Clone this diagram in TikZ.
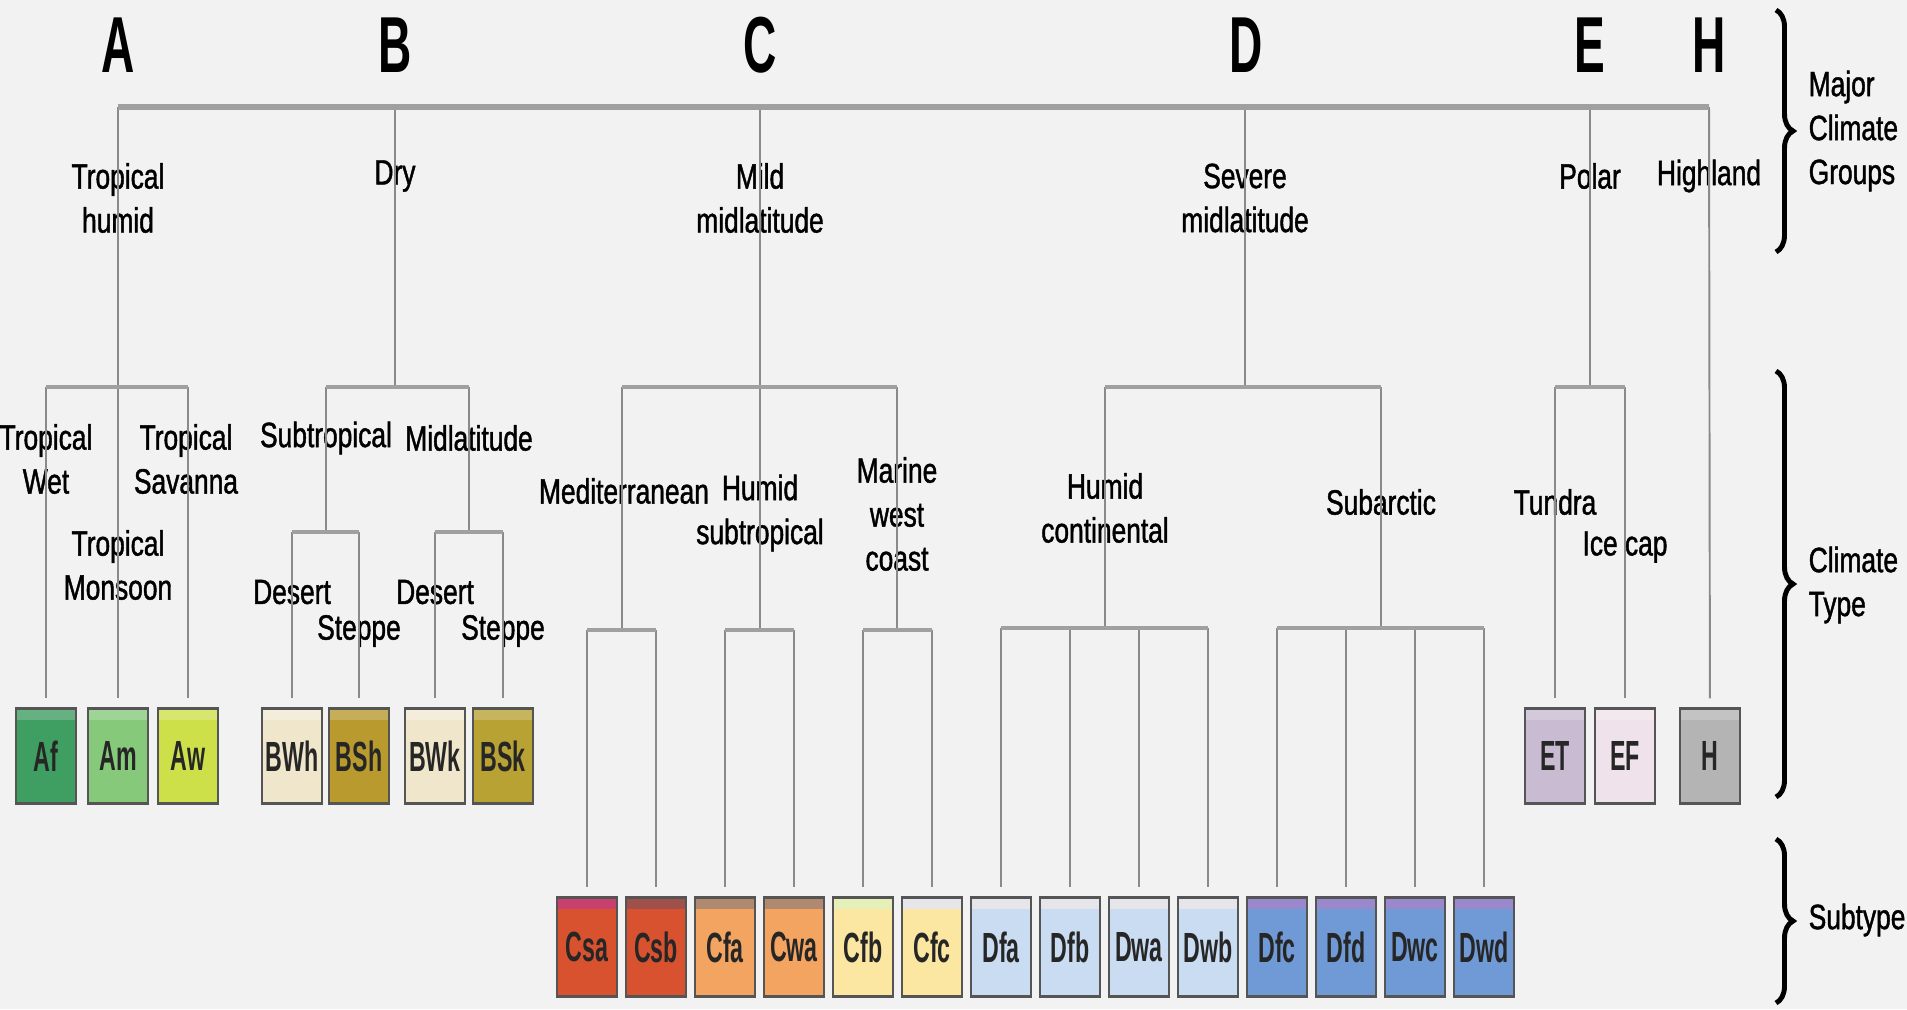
\documentclass[tikz,border=0pt]{standalone}
\usepackage{fontspec}
\setmainfont{Liberation Sans}[FakeStretch=0.75, FakeBold=1.2]
\newfontfamily\narrowfont{Liberation Sans}[FakeStretch=0.58]
\newfontfamily\boxfont{Liberation Sans Bold}[FakeStretch=0.55]
\usepackage{xcolor}
\usetikzlibrary{decorations.pathreplacing}

\definecolor{bgcol}{HTML}{F2F2F2}
\definecolor{linecol}{HTML}{8A8A8A}
\definecolor{barcol}{HTML}{A0A0A0}
\definecolor{boxline}{HTML}{555555}
% climate type colours
\definecolor{cAf}{HTML}{3F9E62}
\definecolor{cAm}{HTML}{86C97A}
\definecolor{cAw}{HTML}{CDE04A}
\definecolor{cBW}{HTML}{EFE6CC}
\definecolor{cBSh}{HTML}{B89A2E}
\definecolor{cBSk}{HTML}{B8A234}
\definecolor{cET}{HTML}{C9BCD2}
\definecolor{cEF}{HTML}{F0E2EA}
\definecolor{cH}{HTML}{B4B4B4}
% subtype colours
\definecolor{cCs}{HTML}{D9522F}
\definecolor{cCf}{HTML}{F4A461}
\definecolor{cCb}{HTML}{FBE6A2}
\definecolor{cDl}{HTML}{CADCF2}
\definecolor{cDd}{HTML}{6F9AD6}
\definecolor{sCsa}{HTML}{C8406E}
\definecolor{sCsb}{HTML}{A0504A}
\definecolor{sCf}{HTML}{B08A70}
\definecolor{sCb}{HTML}{E4F0B8}
\definecolor{sDl}{HTML}{E6E6EA}
\definecolor{sDd}{HTML}{9A88CC}

\begin{document}
\begin{tikzpicture}[x=0.1mm, y=-0.1mm,
    conn/.style={draw=linecol, line width=0.55pt},
    tobox/.style={conn, shorten >=0.9mm},
    topbar/.style={draw=barcol, line width=1.7pt},
    midbar/.style={draw=barcol, line width=1.4pt},
    lowbar/.style={draw=barcol, line width=1.1pt},
    letter/.style={font=\narrowfont\bfseries\fontsize{22.6}{26}\selectfont, inner sep=0pt},
    grp/.style={font=\fontsize{10}{12.5}\selectfont, align=center, inner sep=0pt},
    side/.style={grp, align=left, anchor=west},
    strip/.style={path picture={\fill[#1] (path picture bounding box.north west)
        rectangle ([yshift=-1.1mm]path picture bounding box.north east);}},
    climbox/.style={draw=boxline, line width=0.6pt, minimum width=6mm, minimum height=9.5mm,
        inner sep=0pt, text=black!85, font=\boxfont\fontsize{12}{14}\selectfont},
    subbox/.style={climbox, minimum height=9.9mm},
    grpbrace/.style={decorate, decoration={brace, amplitude=1.7mm}, line width=1.4pt},
]
    % Background
    \fill[bgcol] (0,0) rectangle (1907,1009);
    \useasboundingbox (0,0) rectangle (1907,1009);

    % Major climate groups
    \node[letter] (A) at (118,45) {A};
    \node[letter] (B) at (395,45) {B};
    \node[letter] (C) at (760,45) {C};
    \node[letter] (D) at (1246,45) {D};
    \node[letter] (E) at (1590,45) {E};
    \node[letter] (H) at (1709,45) {H};

    \node[grp] (trop) at (118,198) {Tropical\\humid};
    \node[grp] (dry)  at (395,176) {Dry};
    \node[grp] (mild) at (760,198) {Mild\\midlatitude};
    \node[grp] (sev)  at (1245,198) {Severe\\midlatitude};
    \node[grp] (pol)  at (1590,176) {Polar};
    \node[grp] (high) at (1709,176) {Highland};

    % Climate types
    \node[grp] (twet) at (46,459) {Tropical\\Wet};
    \node[grp] (tsav) at (186,459) {Tropical\\Savanna};
    \node[grp] (tmon) at (118,565) {Tropical\\Monsoon};
    \node[grp] (subt) at (326,438) {Subtropical};
    \node[grp] (midl) at (469,438) {Midlatitude};
    \node[grp] (des1) at (292,592) {Desert};
    \node[grp] (ste1) at (359,631) {Steppe};
    \node[grp] (des2) at (435,592) {Desert};
    \node[grp] (ste2) at (503,631) {Steppe};
    \node[grp] (medi) at (624,491) {Mediterranean};
    \node[grp] (hsub) at (760,513) {Humid\\subtropical};
    \node[grp] (mwc)  at (897,514) {Marine\\west\\coast};
    \node[grp] (hcon) at (1105,508) {Humid\\continental};
    \node[grp] (suba) at (1381,502) {Subarctic};
    \node[grp] (tund) at (1555,502) {Tundra};
    \node[grp] (icec) at (1625,547) {Ice cap};

    % Climate type boxes
    \node[climbox, fill=cAf, strip=cAf!80!white] (Af)  at (46,756)  {Af};
    \node[climbox, fill=cAm, strip=cAm!80!white] (Am)  at (118,756) {Am};
    \node[climbox, fill=cAw, strip=cAw!80!white] (Aw)  at (188,756) {Aw};
    \node[climbox, fill=cBW, strip=cBW!70!white] (BWh) at (292,756) {BWh};
    \node[climbox, fill=cBSh, strip=cBSh!80!white] (BSh) at (359,756) {BSh};
    \node[climbox, fill=cBW, strip=cBW!70!white] (BWk) at (435,756) {BWk};
    \node[climbox, fill=cBSk, strip=cBSk!80!white] (BSk) at (503,756) {BSk};
    \node[climbox, fill=cET, strip=cET!80!white] (ET)  at (1555,756) {ET};
    \node[climbox, fill=cEF, strip=cEF!80!white] (EF)  at (1625,756) {EF};
    \node[climbox, fill=cH, strip=cH!80!white]  (Hb)  at (1710,756) {H};

    % Subtype boxes
    \foreach \n/\c/\s [count=\i from 0] in {Csa/cCs/sCsa, Csb/cCs/sCsb, Cfa/cCf/sCf, Cwa/cCf/sCf,
        Cfb/cCb/sCb, Cfc/cCb/sDl, Dfa/cDl/sDl, Dfb/cDl/sDl, Dwa/cDl/sDl, Dwb/cDl/sDl,
        Dfc/cDd/sDd, Dfd/cDd/sDd, Dwc/cDd/sDd, Dwd/cDd/sDd}
        \node[subbox, fill=\c, strip=\s] (\n) at (587+69*\i,947) {\n};

    % Junction points
    \coordinate (tA) at (118,107);
    \coordinate (tB) at (395,107);
    \coordinate (tC) at (760,107);
    \coordinate (tD) at (1245,107);
    \coordinate (tE) at (1590,107);
    \coordinate (tH) at (1709,107);
    \coordinate (mA) at (118,387);
    \coordinate (mB) at (395,387);
    \coordinate (mD) at (1245,387);
    \coordinate (mE) at (1590,387);
    \coordinate (b1) at (326,387);
    \coordinate (b2) at (469,387);
    \coordinate (c1) at (622,387);
    \coordinate (c3) at (897,387);
    \coordinate (d1) at (1105,387);
    \coordinate (d2) at (1381,387);
    \coordinate (b1l) at (326,532);
    \coordinate (b2l) at (469,532);
    \coordinate (c1l) at (622,630);
    \coordinate (c2l) at (760,630);
    \coordinate (c3l) at (897,630);
    \coordinate (d1l) at (1105,628);
    \coordinate (d2l) at (1381,628);

    % Vertical lines from the groups
    \draw[tobox] (tA) -- (Am);
    \draw[conn] (tB) -- (mB);
    \draw[conn] (tC) -- (c2l);
    \draw[conn] (tD) -- (mD);
    \draw[conn] (tE) -- (mE);
    \draw[tobox] (tH) -- (Hb);

    % Lines down to the climate types
    \draw[tobox] (Af |- mA) -- (Af);
    \draw[tobox] (Aw |- mA) -- (Aw);
    \draw[conn] (b1) -- (b1l);
    \draw[conn] (b2) -- (b2l);
    \draw[conn] (c1) -- (c1l);
    \draw[conn] (c3) -- (c3l);
    \draw[conn] (d1) -- (d1l);
    \draw[conn] (d2) -- (d2l);
    \draw[tobox] (ET |- mE) -- (ET);
    \draw[tobox] (EF |- mE) -- (EF);
    \foreach \n in {BWh, BSh, BWk, BSk}
        \draw[tobox] (\n |- b1l) -- (\n);
    \foreach \n in {Csa, Csb, Cfa, Cwa, Cfb, Cfc}
        \draw[tobox] (\n |- c1l) -- (\n);
    \foreach \n in {Dfa, Dfb, Dwa, Dwb, Dfc, Dfd, Dwc, Dwd}
        \draw[tobox] (\n |- d1l) -- (\n);

    % Horizontal bars
    \draw[topbar] (tA) -- (tH);
    \draw[midbar] (Af |- mA) -- (Aw |- mA);
    \draw[midbar] (b1) -- (b2);
    \draw[midbar] (c1) -- (c3);
    \draw[midbar] (d1) -- (d2);
    \draw[midbar] (ET |- mE) -- (EF |- mE);
    \draw[lowbar] (BWh |- b1l) -- (BSh |- b1l);
    \draw[lowbar] (BWk |- b2l) -- (BSk |- b2l);
    \draw[lowbar] (Csa |- c1l) -- (Csb |- c1l);
    \draw[lowbar] (Cfa |- c2l) -- (Cwa |- c2l);
    \draw[lowbar] (Cfb |- c3l) -- (Cfc |- c3l);
    \draw[lowbar] (Dfa |- d1l) -- (Dwb |- d1l);
    \draw[lowbar] (Dfc |- d2l) -- (Dwd |- d2l);

    % Braces and level names
    \draw[grpbrace] (1776,10) -- (1776,252);
    \draw[grpbrace] (1776,371) -- (1776,797);
    \draw[grpbrace] (1776,839) -- (1776,1003);
    \node[side] (major) at (1808,131) {Major\\Climate\\Groups};
    \node[side] (ctype) at (1808,585) {Climate\\Type};
    \node[side] (stype) at (1808,920) {Subtype};
\end{tikzpicture}
\end{document}
